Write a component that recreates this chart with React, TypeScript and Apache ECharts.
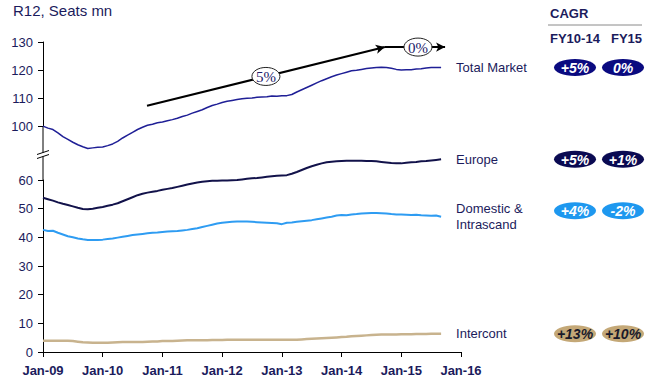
import React, { useEffect, useRef } from 'react';
import * as echarts from 'echarts';

const xLabels = ['Jan-09', 'Jan-10', 'Jan-11', 'Jan-12', 'Jan-13', 'Jan-14', 'Jan-15', 'Jan-16'];

// Monthly R12 seats (mn), Jan-09 .. Sep-15
const totalMarket = [
  100.2, 99.5, 99, 97.8, 96.5, 95.5, 94.5, 93.6, 92.9, 92.3, 92.5, 92.7,
  92.8, 93.3, 93.9, 94.8, 96, 97, 98, 99, 99.8, 100.5, 100.9, 101.4,
  101.7, 102.1, 102.5, 103, 103.6, 104.1, 104.8, 105.4, 106, 106.8, 107.5, 108,
  108.6, 109, 109.3, 109.6, 109.9, 110.1, 110.2, 110.4, 110.5, 110.6, 110.9, 110.8,
  111, 111, 111.4, 112.3, 113.1, 113.9, 114.7, 115.5, 116.3, 117, 117.7, 118.3,
  118.8, 119.3, 119.8, 120, 120.3, 120.6, 120.8, 121, 121.1, 121, 120.7, 120.3,
  120.1, 120.2, 120.2, 120.4, 120.5, 120.8, 121, 121, 121,
];
const europe = [
  53.8, 53.3, 52.8, 52.2, 51.7, 51.3, 50.8, 50.3, 49.9, 49.8, 50, 50.3,
  50.6, 51, 51.4, 51.9, 52.6, 53.3, 54, 54.7, 55.2, 55.6, 55.9, 56.2,
  56.6, 56.9, 57.2, 57.6, 58, 58.4, 58.8, 59.1, 59.4, 59.6, 59.7, 59.7,
  59.8, 59.8, 59.9, 60, 60.2, 60.4, 60.6, 60.7, 60.9, 61.1, 61.3, 61.5,
  61.6, 61.7, 62.2, 62.8, 63.5, 64.2, 64.8, 65.3, 65.8, 66.2, 66.4, 66.5,
  66.6, 66.7, 66.7, 66.7, 66.7, 66.6, 66.6, 66.5, 66.3, 66.1, 65.9, 65.8,
  65.8, 66, 66.2, 66.3, 66.5, 66.6, 66.8, 67, 67.2,
];
const domestic = [
  42.6, 42.2, 42.3, 41.6, 41, 40.4, 40, 39.6, 39.3, 39.1, 39.1, 39.1,
  39.2, 39.4, 39.6, 39.9, 40.2, 40.5, 40.8, 41, 41.2, 41.4, 41.6, 41.7,
  41.9, 42, 42.1, 42.2, 42.4, 42.6, 42.9, 43.2, 43.6, 44, 44.4, 44.8,
  45.1, 45.3, 45.4, 45.5, 45.5, 45.5, 45.4, 45.3, 45.2, 45.1, 45, 44.9,
  44.6, 45.1, 45.2, 45.4, 45.6, 45.8, 46, 46.3, 46.6, 46.9, 47.2, 47.6,
  47.8, 47.7, 48, 48.1, 48.3, 48.4, 48.5, 48.5, 48.4, 48.3, 48.1, 48,
  48, 47.9, 47.8, 47.9, 47.7, 47.6, 47.5, 47.6, 47.2,
];
const intercont = [
  3.9, 3.9, 3.9, 3.9, 3.9, 3.9, 3.8, 3.6, 3.4, 3.3, 3.2, 3.2,
  3.2, 3.2, 3.3, 3.4, 3.5, 3.5, 3.5, 3.5, 3.5, 3.6, 3.7, 3.7,
  3.8, 3.8, 3.8, 3.9, 4.0, 4.1, 4.1, 4.1, 4.1, 4.1, 4.2, 4.2,
  4.2, 4.3, 4.3, 4.3, 4.3, 4.3, 4.3, 4.3, 4.3, 4.3, 4.3, 4.3,
  4.3, 4.3, 4.3, 4.3, 4.4, 4.5, 4.6, 4.7, 4.8, 4.9, 5.0, 5.1,
  5.2, 5.3, 5.5, 5.6, 5.7, 5.8, 5.9, 6.0, 6.1, 6.1, 6.1, 6.1,
  6.2, 6.2, 6.2, 6.3, 6.3, 6.3, 6.4, 6.4, 6.4,
];

const seriesNames = ['Total Market', 'Europe', 'Domestic &\nIntrascand', 'Intercont'];
const cagr1014 = ['+5%', '+5%', '+4%', '+13%'];
const cagr15 = ['0%', '+1%', '-2%', '+10%'];
const trendLabels = ['5%', '0%'];
// trend arrow points in (month index, seats) of the upper panel
const trendX = [20.9, 68.7, 80.8];
const trendY = [107.4, 128.2, 128.2];

const lineColors = ['#1f1f96', '#12124a', '#2e9cf2', '#c8b38e'];
const badgeColors = ['#0a0a80', '#0a0a52', '#1e98ef', '#c4a877'];
const badgeText = ['#ffffff', '#ffffff', '#ffffff', '#1a1a2a'];
const lineWidths = [1.5, 2, 2, 2.5];

const FONT = 'Liberation Sans, Arial, sans-serif';
const NAVY = '#1b1b5c';

export default function App() {
  const ref = useRef<HTMLDivElement>(null);
  useEffect(() => {
    if (!ref.current) return;
    const chart = echarts.init(ref.current, undefined, { renderer: 'svg' });
    const allData = [totalMarket, europe, domestic, intercont];

    const yLabel = {
      color: NAVY,
      fontSize: 13,
      fontFamily: FONT,
      margin: 10,
    };
    const axisCommon = {
      axisLine: { show: true, lineStyle: { color: '#000', width: 1 } },
      axisTick: { show: true, length: 5, lineStyle: { color: '#000' } },
      splitLine: { show: false },
    };

    const series: any[] = allData.map((d, k) => ({
      type: 'line',
      name: seriesNames[k],
      xAxisIndex: k === 0 ? 0 : 1,
      yAxisIndex: k === 0 ? 0 : 1,
      data: d.map((v, i) => [i, v]),
      showSymbol: false,
      clip: false,
      silent: true,
      lineStyle: { color: lineColors[k], width: lineWidths[k] },
      endLabel: {
        show: true,
        formatter: seriesNames[k],
        distance: 15,
        color: NAVY,
        fontSize: 13,
        fontFamily: FONT,
        lineHeight: 16,
      },
      z: 3,
    }));

    series[0].markLine = {
      silent: true,
      symbol: ['none', 'arrow'],
      symbolSize: [7, 9],
      label: { show: false },
      lineStyle: { color: '#000', width: 2, type: 'solid' },
      data: [
        [{ coord: [trendX[0], trendY[0]] }, { coord: [trendX[1], trendY[1]] }],
        [{ coord: [trendX[1], trendY[1]] }, { coord: [trendX[2], trendY[2]] }],
      ],
    };

    const option: any = {
      animation: false,
      grid: [
        { left: 43, right: 197, top: 42, height: 84.7 },
        { left: 43, right: 197, top: 180, height: 172 },
      ],
      xAxis: [
        { gridIndex: 0, type: 'value', min: 0, max: 84, interval: 12, show: false },
        {
          gridIndex: 1,
          type: 'value',
          min: 0,
          max: 84,
          interval: 12,
          ...axisCommon,
          axisLabel: {
            formatter: (v: number) => xLabels[Math.round(v / 12)] ?? '',
            color: NAVY,
            fontSize: 13,
            fontWeight: 'bold',
            fontFamily: FONT,
            margin: 12,
            showMinLabel: true,
            showMaxLabel: true,
          },
        },
      ],
      yAxis: [
        { gridIndex: 0, type: 'value', min: 100, max: 130, interval: 10, ...axisCommon, axisLabel: yLabel },
        { gridIndex: 1, type: 'value', min: 0, max: 60, interval: 10, ...axisCommon, axisLabel: yLabel },
      ],
      series,
    };
    chart.setOption(option);

    const px = (si: number, x: number, y: number) =>
      chart.convertToPixel({ seriesIndex: si }, [x, y]) as number[];

    const g: any[] = [];
    // title
    g.push({
      type: 'text', left: 13, top: 3,
      style: { text: 'R12, Seats mn', fill: NAVY, font: `15px ${FONT}` },
    });
    // header
    g.push({ type: 'text', x: 550, y: 13, style: { text: 'CAGR', fill: NAVY, font: `bold 13px ${FONT}`, verticalAlign: 'middle' } });
    g.push({ type: 'line', shape: { x1: 548, y1: 25, x2: 642, y2: 25 }, style: { stroke: '#8a8a8a', lineWidth: 1 } });
    g.push({ type: 'text', x: 550, y: 38, style: { text: 'FY10-14', fill: NAVY, font: `bold 13px ${FONT}`, verticalAlign: 'middle' } });
    g.push({ type: 'text', x: 611, y: 38, style: { text: 'FY15', fill: NAVY, font: `bold 13px ${FONT}`, verticalAlign: 'middle' } });

    // axis break
    const up100 = px(0, 0, 100);
    const low60 = px(1, 0, 60);
    const ax = up100[0];
    const breakTop = 152.5;
    const breakBot = 156.5;
    g.push({ type: 'line', shape: { x1: ax, y1: up100[1], x2: ax, y2: breakTop }, style: { stroke: '#000', lineWidth: 1 } });
    g.push({ type: 'line', shape: { x1: ax, y1: breakBot, x2: ax, y2: low60[1] }, style: { stroke: '#000', lineWidth: 1 } });
    g.push({ type: 'line', shape: { x1: ax - 6, y1: breakTop + 2, x2: ax + 6, y2: breakTop - 2 }, style: { stroke: '#000', lineWidth: 1 } });
    g.push({ type: 'line', shape: { x1: ax - 6, y1: breakBot + 2, x2: ax + 6, y2: breakBot - 2 }, style: { stroke: '#000', lineWidth: 1 } });

    // trend labels
    for (let t = 0; t < 2; t++) {
      const a = px(0, trendX[t], trendY[t]);
      const b = px(0, trendX[t + 1], trendY[t + 1]);
      const cx = (a[0] + b[0]) / 2 + (t === 1 ? 3 : 0);
      const cy = (a[1] + b[1]) / 2;
      g.push({ type: 'ellipse', z: 50, shape: { cx, cy, rx: 14, ry: 9 }, style: { fill: '#fff', stroke: '#222', lineWidth: 1 } });
      g.push({
        type: 'text', z: 51, x: cx, y: cy + 0.5,
        style: { text: trendLabels[t], fill: '#1b1b6a', font: `15px Liberation Serif, Times New Roman, serif`, align: 'center', verticalAlign: 'middle' },
      });
    }

    // CAGR badges
    const cols = [575, 623];
    allData.forEach((d, k) => {
      const p = px(k, d.length - 1, d[d.length - 1]);
      const cy = p[1] + (k === 2 ? -6 : 0);
      [cagr1014[k], cagr15[k]].forEach((txt, c) => {
        g.push({ type: 'ellipse', z: 50, shape: { cx: cols[c], cy, rx: 21, ry: 8.5 }, style: { fill: badgeColors[k] } });
        g.push({
          type: 'text', z: 51, x: cols[c], y: cy + 0.5,
          style: { text: txt, fill: badgeText[k], font: `italic bold 14px ${FONT}`, align: 'center', verticalAlign: 'middle' },
        });
      });
    });

    chart.setOption({ graphic: g });
    return () => chart.dispose();
  }, []);
  return <div ref={ref} style={{ position: 'fixed', left: 0, top: 0, width: 658, height: 386, background: '#fff' }} />;
}
